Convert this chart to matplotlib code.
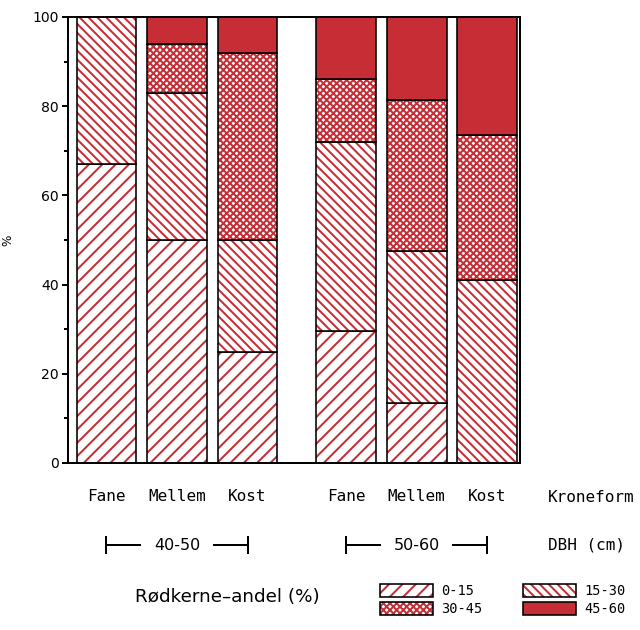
import numpy as np
import matplotlib.pyplot as plt
import matplotlib.transforms as mtransforms
from matplotlib.patches import Patch

# share of trees (%) in each red-heart class, per crown form and DBH class
dbh_classes = ['40-50', '50-60']
crown_forms = ['Fane', 'Mellem', 'Kost', 'Fane', 'Mellem', 'Kost']
share_0_15 = [67, 50, 25, 29.5, 13.5, 0]
share_15_30 = [33, 33, 25, 42.5, 34, 41]
share_30_45 = [0, 11, 42, 14, 34, 32.5]
share_45_60 = [0, 6, 8, 14, 18.5, 26.5]
class_labels = ['0-15', '15-30', '30-45', '45-60']

red = '#c62d35'
mono = 'DejaVu Sans Mono'

dpi = 160
pt = 72 / dpi  # points per pixel, sizes below are given in pixels

plt.rcParams['hatch.linewidth'] = 2.0 * pt

fig = plt.figure(figsize=(640/dpi, 630/dpi), dpi=dpi)
ax = fig.add_axes([68/640, 1 - 463/630, (520-68)/640, (463-17)/630])

x = np.concatenate([np.arange(3), np.arange(3) + 3.4])
width = 0.85

series = [share_0_15, share_15_30, share_30_45, share_45_60]
styles = [
    dict(facecolor='white', edgecolor=red, hatch='/' * 4),
    dict(facecolor='white', edgecolor=red, hatch='\\' * 6),
    dict(facecolor='white', edgecolor=red, hatch='x' * 8),
    dict(facecolor=red, edgecolor=red, hatch=None),
]

bottom = np.zeros(len(x))
for vals, st in zip(series, styles):
    vals = np.array(vals, dtype=float)
    ax.bar(x, vals, width, bottom=bottom, linewidth=0, **st)
    ax.bar(x, vals, width, bottom=bottom, fill=False, edgecolor='black', linewidth=1.6*pt)
    bottom += vals

ax.set_xlim(-0.546, 5.865)
ax.set_ylim(0, 100)
ax.set_yticks(np.arange(0, 101, 20))
ax.set_yticks(np.arange(10, 100, 20), minor=True)
ax.tick_params(axis='y', which='major', length=6*pt, width=2*pt, pad=3*pt, labelsize=14*pt)
ax.tick_params(axis='y', which='minor', length=4*pt, width=2*pt)
ax.set_xticks(x)
ax.set_xticklabels(crown_forms, fontfamily=mono, fontsize=16*pt)
ax.tick_params(axis='x', length=0, pad=26*pt)
for sp in ax.spines.values():
    sp.set_linewidth(2*pt)
ax.set_ylabel('%', fontsize=12*pt)
ax.yaxis.set_label_coords(-54/452, 0.5)

fig.text(548/640, 1 - 497/630, 'Kroneform', va='center', fontfamily=mono, fontsize=16*pt)

# DBH brackets under each group
trans = mtransforms.blended_transform_factory(ax.transData, fig.transFigure)
yb = 1 - 545/630
hh = 8/630
for i, lab in enumerate(dbh_classes):
    x0 = x[3*i]
    x1 = x[3*i + 2]
    xm = (x0 + x1) / 2
    kw = dict(color='black', lw=2*pt, transform=trans, clip_on=False)
    ax.plot([x0, x0], [yb - hh, yb + hh], **kw)
    ax.plot([x1, x1], [yb - hh, yb + hh], **kw)
    ax.plot([x0, xm - 0.52], [yb, yb], **kw)
    ax.plot([xm + 0.52, x1], [yb, yb], **kw)
    ax.text(xm, yb, lab, transform=trans, ha='center', va='center', fontsize=16*pt)
fig.text(548/640, yb, 'DBH (cm)', va='center', fontfamily=mono, fontsize=16*pt)

# legend
handles = []
for st in styles:
    handles.append((Patch(linewidth=0, **st),
                    Patch(fill=False, edgecolor='black', linewidth=1.6*pt)))
order = [0, 2, 1, 3]
leg = fig.legend([handles[i] for i in order], [class_labels[i] for i in order],
                 ncol=2, loc='upper left', bbox_to_anchor=(380/640, 1 - 584/630),
                 frameon=False, handlelength=3.9, handleheight=1.1,
                 handletextpad=0.6, columnspacing=3.0, labelspacing=0.25,
                 borderpad=0, borderaxespad=0,
                 prop={'family': mono, 'size': 13.6*pt})
fig.text(135/640, 1 - 597/630, 'Rødkerne\u2013andel (%)', va='center', fontsize=18.4*pt)

fig.savefig('out.png', dpi=dpi)
